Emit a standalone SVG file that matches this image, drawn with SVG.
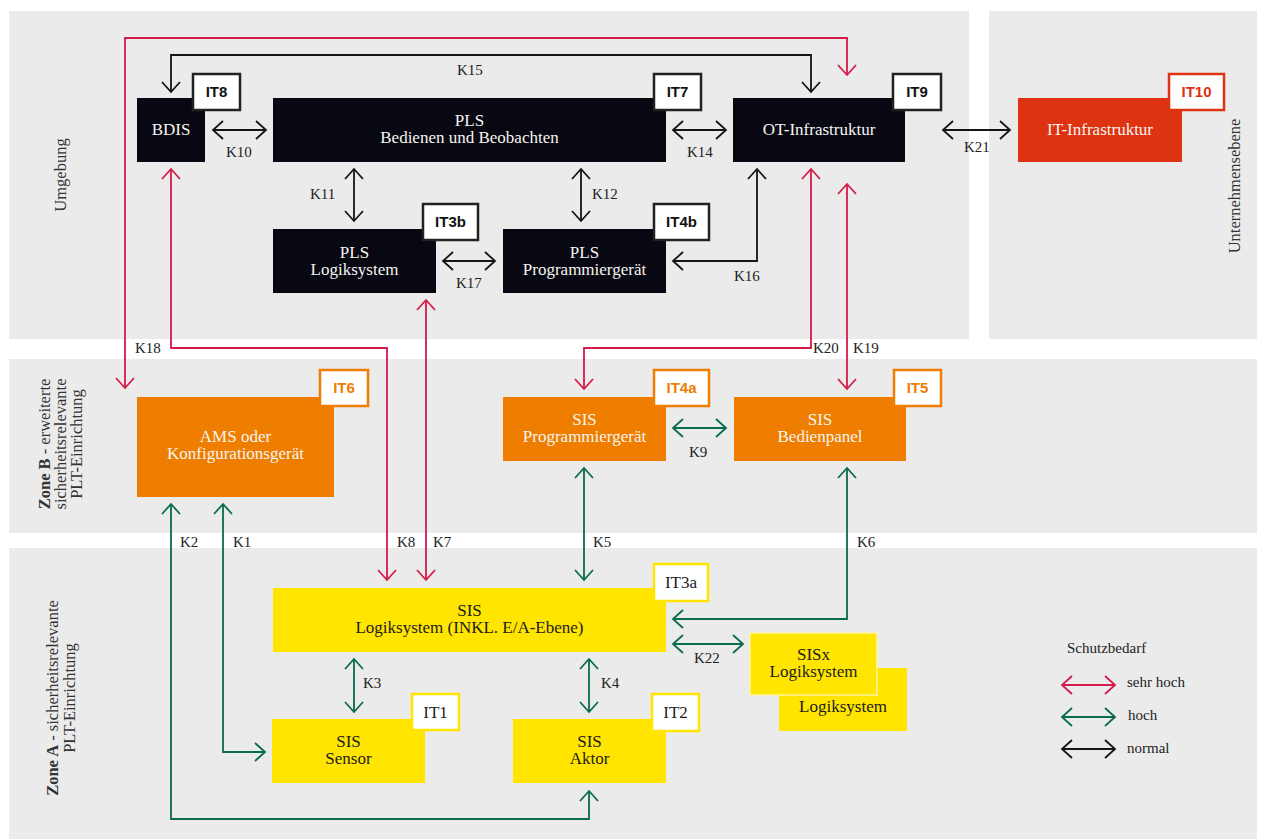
<svg xmlns="http://www.w3.org/2000/svg" width="1262" height="839" viewBox="0 0 1262 839">
<style>
.panel{fill:#ebebeb}
.box-dark{fill:#070812}
.box-orange{fill:#ee7d00}
.box-red{fill:#dd3311}
.box-yellow{fill:#ffe500}
.t{font-family:"Liberation Serif","DejaVu Serif",serif;font-size:17px;text-anchor:middle}
.tw{fill:#f7f4ef}
.tk{fill:#1c1c1c}
.lbl{font-family:"Liberation Serif","DejaVu Serif",serif;font-size:15px;fill:#222}
.tag{fill:#fff;stroke-width:2.5}
.tag-k{stroke:#222}
.tag-o{stroke:#ee7d00}
.tag-r{stroke:#dd3311}
.tag-y{stroke:#ffe500}
.tagt{font-family:"Liberation Sans","Open Sans",sans-serif;font-size:15px;font-weight:bold;text-anchor:middle}
.tagt2{font-family:"Liberation Serif","DejaVu Serif",serif;font-size:17px;text-anchor:middle;fill:#1c1c1c}
.side{font-family:"Liberation Serif","DejaVu Serif",serif;font-size:16.5px;fill:#333;text-anchor:middle}
.cr{fill:none;stroke:#d51b4a;stroke-width:1.8;marker-start:url(#ar);marker-end:url(#ar)}
.cg{fill:none;stroke:#0b6b4e;stroke-width:1.8;marker-start:url(#ag);marker-end:url(#ag)}
.ck{fill:none;stroke:#151515;stroke-width:1.8;marker-start:url(#ak);marker-end:url(#ak)}
</style>
<defs>
<marker id="ar" markerUnits="userSpaceOnUse" viewBox="-12 -10 14 20" refX="0" refY="0" markerWidth="14" markerHeight="20" orient="auto-start-reverse"><path d="M-10,-9 L0,0 L-10,9" fill="none" stroke="#d51b4a" stroke-width="1.8"/></marker>
<marker id="ag" markerUnits="userSpaceOnUse" viewBox="-12 -10 14 20" refX="0" refY="0" markerWidth="14" markerHeight="20" orient="auto-start-reverse"><path d="M-10,-9 L0,0 L-10,9" fill="none" stroke="#0b6b4e" stroke-width="1.8"/></marker>
<marker id="ak" markerUnits="userSpaceOnUse" viewBox="-12 -10 14 20" refX="0" refY="0" markerWidth="14" markerHeight="20" orient="auto-start-reverse"><path d="M-10,-9 L0,0 L-10,9" fill="none" stroke="#151515" stroke-width="1.8"/></marker>
</defs>
<rect width="1262" height="839" fill="#ffffff"/>
<g id="panels">
<rect class="panel" x="9" y="11" width="960" height="328"/>
<rect class="panel" x="989" y="11" width="268" height="328"/>
<rect class="panel" x="9" y="359" width="1248" height="174"/>
<rect class="panel" x="9" y="548" width="1248" height="291"/>
<text class="side" transform="translate(66,175) rotate(-90)">Umgebung</text>
<text class="side" transform="translate(1240,186) rotate(-90)">Unternehmensebene</text>
<text class="side" transform="translate(50,444) rotate(-90)"><tspan font-weight="bold">Zone B</tspan> - erweiterte</text>
<text class="side" transform="translate(66,444) rotate(-90)">sicherheitsrelevante</text>
<text class="side" transform="translate(82,444) rotate(-90)">PLT-Einrichtung</text>
<text class="side" transform="translate(58,698) rotate(-90)"><tspan font-weight="bold">Zone A</tspan> - sicherheitsrelevante</text>
<text class="side" transform="translate(75,698) rotate(-90)">PLT-Einrichtung</text>
</g>
<g id="connectors">
<path class="ck" d="M171,92 V55 H811 V92"/>
<path class="ck" d="M213,130 H266"/>
<path class="ck" d="M354,169 V221"/>
<path class="ck" d="M581,169 V221"/>
<path class="ck" d="M673,130 H726"/>
<path class="ck" d="M673,261 H757 V169"/>
<path class="ck" d="M443,261 H495"/>
<path class="ck" d="M943,130 H1010"/>
<path class="cr" d="M847,75 V38 H125 V388"/>
<path class="cr" d="M171,169 V348 H387 V580"/>
<path class="cr" d="M426,300 V580"/>
<path class="cr" d="M811,169 V348 H584 V389"/>
<path class="cr" d="M847,184 V389"/>
<path class="cg" d="M673,428 H726"/>
<path class="cg" d="M584,468 V580"/>
<path class="cg" d="M847,468 V619 H673"/>
<path class="cg" d="M223,504 V752 H265"/>
<path class="cg" d="M171,504 V819 H589 V791"/>
<path class="cg" d="M354,659 V712"/>
<path class="cg" d="M589,659 V712"/>
<path class="cg" d="M673,644 H743"/>
<text class="lbl" x="457" y="75">K15</text>
<text class="lbl" x="226" y="157">K10</text>
<text class="lbl" x="310" y="199">K11</text>
<text class="lbl" x="592" y="199">K12</text>
<text class="lbl" x="687" y="157">K14</text>
<text class="lbl" x="734" y="281">K16</text>
<text class="lbl" x="456" y="288">K17</text>
<text class="lbl" x="964" y="152">K21</text>
<text class="lbl" x="135" y="353">K18</text>
<text class="lbl" x="813" y="353">K20</text>
<text class="lbl" x="853" y="353">K19</text>
<text class="lbl" x="689" y="457">K9</text>
<text class="lbl" x="180" y="547">K2</text>
<text class="lbl" x="233" y="547">K1</text>
<text class="lbl" x="397" y="547">K8</text>
<text class="lbl" x="433" y="547">K7</text>
<text class="lbl" x="593" y="547">K5</text>
<text class="lbl" x="857" y="547">K6</text>
<text class="lbl" x="363" y="688">K3</text>
<text class="lbl" x="601" y="688">K4</text>
<text class="lbl" x="694" y="663">K22</text>
</g>
<g id="bdis">
<rect class="box-dark" x="137" y="98" width="68" height="64"/>
<text class="t tw" x="171" y="135">BDIS</text>
<rect class="tag tag-k" x="193" y="74" width="47" height="36"/>
<text class="tagt" x="216.5" y="97" fill="#111">IT8</text>
</g>
<g id="pls-bub">
<rect class="box-dark" x="273" y="98" width="393" height="64"/>
<text class="t tw" x="469.5" y="126">PLS</text>
<text class="t tw" x="469.5" y="143">Bedienen und Beobachten</text>
<rect class="tag tag-k" x="654" y="74" width="47" height="36"/>
<text class="tagt" x="677.5" y="97" fill="#111">IT7</text>
</g>
<g id="ot-infra">
<rect class="box-dark" x="733" y="98" width="172" height="64"/>
<text class="t tw" x="819" y="135">OT-Infrastruktur</text>
<rect class="tag tag-k" x="893" y="74" width="48" height="36"/>
<text class="tagt" x="917" y="97" fill="#111">IT9</text>
</g>
<g id="it-infra">
<rect class="box-red" x="1018" y="98" width="164" height="64"/>
<text class="t tw" x="1100" y="135">IT-Infrastruktur</text>
<rect class="tag tag-r" x="1169" y="74" width="55" height="36"/>
<text class="tagt" x="1196.5" y="97" fill="#dd3311">IT10</text>
</g>
<g id="pls-logik">
<rect class="box-dark" x="273" y="229" width="163" height="64"/>
<text class="t tw" x="354.5" y="258">PLS</text>
<text class="t tw" x="354.5" y="275">Logiksystem</text>
<rect class="tag tag-k" x="423" y="204" width="55" height="36"/>
<text class="tagt" x="450.5" y="227" fill="#111">IT3b</text>
</g>
<g id="pls-prog">
<rect class="box-dark" x="503" y="229" width="163" height="64"/>
<text class="t tw" x="584.5" y="258">PLS</text>
<text class="t tw" x="584.5" y="275">Programmiergerät</text>
<rect class="tag tag-k" x="654" y="204" width="55" height="36"/>
<text class="tagt" x="681.5" y="227" fill="#111">IT4b</text>
</g>
<g id="ams">
<rect class="box-orange" x="137" y="397" width="197" height="100"/>
<text class="t tw" x="235.5" y="442">AMS oder</text>
<text class="t tw" x="235.5" y="459">Konfigurationsgerät</text>
<rect class="tag tag-o" x="320" y="370" width="48" height="36"/>
<text class="tagt" x="344" y="393" fill="#ee7d00">IT6</text>
</g>
<g id="sis-prog">
<rect class="box-orange" x="503" y="397" width="163" height="64"/>
<text class="t tw" x="584.5" y="425">SIS</text>
<text class="t tw" x="584.5" y="442">Programmiergerät</text>
<rect class="tag tag-o" x="654" y="370" width="55" height="36"/>
<text class="tagt" x="681.5" y="393" fill="#ee7d00">IT4a</text>
</g>
<g id="sis-bedien">
<rect class="box-orange" x="734" y="397" width="172" height="64"/>
<text class="t tw" x="820" y="425">SIS</text>
<text class="t tw" x="820" y="442">Bedienpanel</text>
<rect class="tag tag-o" x="894" y="370" width="47" height="36"/>
<text class="tagt" x="917.5" y="393" fill="#ee7d00">IT5</text>
</g>
<g id="sis-logik">
<rect class="box-yellow" x="273" y="588" width="393" height="64"/>
<text class="t tk" x="469.5" y="616">SIS</text>
<text class="t tk" x="469.5" y="633">Logiksystem (INKL. E/A-Ebene)</text>
<rect class="tag tag-y" x="654" y="564" width="54" height="37"/>
<text class="tagt2" x="681" y="588">IT3a</text>
</g>
<g id="sis-sensor">
<rect class="box-yellow" x="272" y="719" width="153" height="64"/>
<text class="t tk" x="348.5" y="747">SIS</text>
<text class="t tk" x="348.5" y="764">Sensor</text>
<rect class="tag tag-y" x="412" y="694" width="47" height="36"/>
<text class="tagt2" x="435.5" y="718">IT1</text>
</g>
<g id="sis-aktor">
<rect class="box-yellow" x="513" y="719" width="153" height="64"/>
<text class="t tk" x="589.5" y="747">SIS</text>
<text class="t tk" x="589.5" y="764">Aktor</text>
<rect class="tag tag-y" x="652" y="694" width="47" height="37"/>
<text class="tagt2" x="675.5" y="718">IT2</text>
</g>
<g id="logiksystem-back">
<rect class="box-yellow" x="779" y="668" width="128" height="63"/>
<text class="t tk" x="843" y="712">Logiksystem</text>
</g>
<g id="sisx-logik">
<rect class="box-yellow" x="750" y="633" width="127" height="62" stroke="#fff3a0" stroke-width="1.5"/>
<text class="t tk" x="813.5" y="660">SISx</text>
<text class="t tk" x="813.5" y="677">Logiksystem</text>
</g>
<g id="legend">
<text class="lbl" x="1067" y="653">Schutzbedarf</text>
<path class="cr" d="M1062,685 H1115"/>
<path class="cg" d="M1062,717 H1115"/>
<path class="ck" d="M1062,749 H1115"/>
<text class="lbl" x="1127" y="687">sehr hoch</text>
<text class="lbl" x="1128" y="720">hoch</text>
<text class="lbl" x="1127" y="753">normal</text>
</g>
</svg>
